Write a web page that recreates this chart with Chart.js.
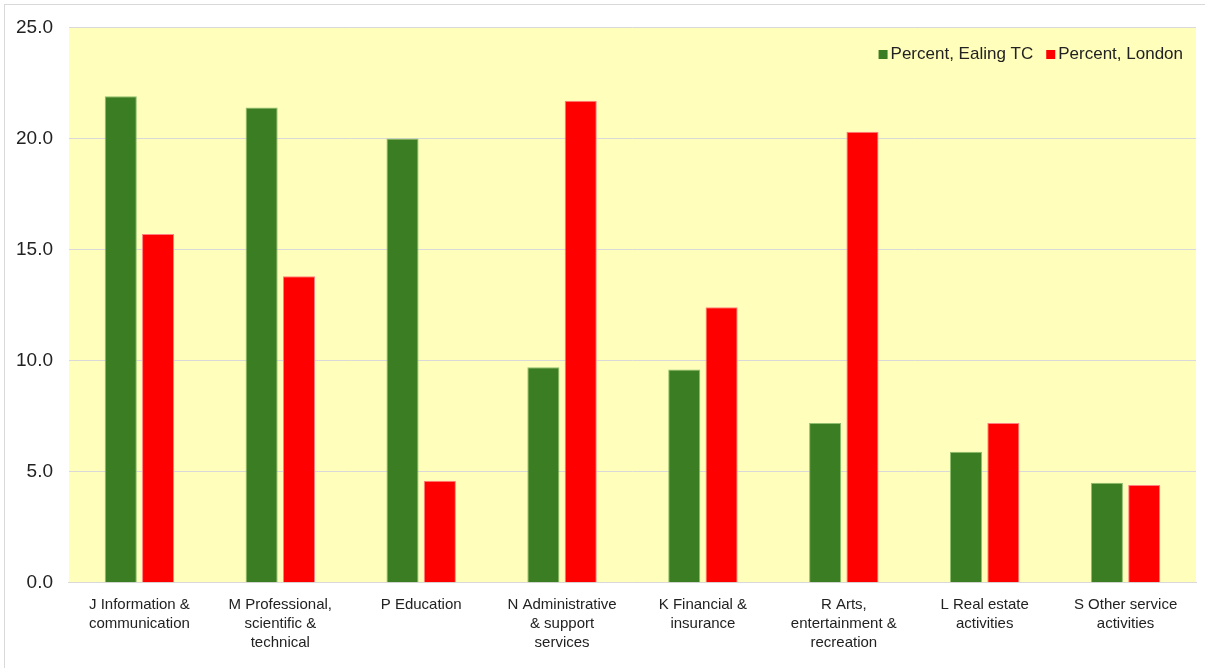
<!DOCTYPE html>
<html>
<head>
<meta charset="utf-8">
<script src="https://cdn.jsdelivr.net/npm/chart.js@4"></script>
<style>
  html, body { margin: 0; padding: 0; background: #fff; }
  #wrap { position: absolute; left: 4px; top: 4px; width: 1201px; height: 664px; box-sizing: border-box; border: 1px solid #d9d9d9; border-right: none; border-bottom: none; }
  #chart { position: absolute; left: -5px; top: -5px; }
</style>
</head>
<body>
<div id="wrap"><canvas id="chart" width="1205" height="668"></canvas></div>
<script>
const categories = [
  ["J Information &", "communication"],
  ["M Professional,", "scientific &", "technical"],
  ["P Education"],
  ["N Administrative", "& support", "services"],
  ["K Financial &", "insurance"],
  ["R Arts,", "entertainment &", "recreation"],
  ["L Real estate", "activities"],
  ["S Other service", "activities"]
];
const ealing = [21.9, 21.4, 20.0, 9.7, 9.6, 7.2, 5.9, 4.5];
const london = [15.7, 13.8, 4.6, 21.7, 12.4, 20.3, 7.2, 4.4];
const seriesNames = ["Percent, Ealing TC", "Percent, London"];

const font = "'Liberation Sans', Arial, sans-serif";

const plotBg = {
  id: "plotBg",
  beforeDraw(chart) {
    const { ctx, chartArea: a } = chart;
    ctx.save();
    ctx.fillStyle = "#ffffbb";
    ctx.fillRect(a.left, a.top, a.right - a.left, a.bottom - a.top);
    ctx.restore();
  }
};

// legend drawn inside the plot, top right
const innerLegend = {
  id: "innerLegend",
  afterDraw(chart) {
    const { ctx, chartArea: a } = chart;
    ctx.save();
    ctx.font = "17px " + font;
    ctx.textBaseline = "middle";
    const y = 54;
    let x = a.right - 13;
    const items = chart.data.datasets.slice().reverse();
    items.forEach(ds => {
      const w = ctx.measureText(ds.label).width;
      x -= w;
      ctx.fillStyle = "#222";
      ctx.fillText(ds.label, x, y);
      ctx.fillStyle = ds.backgroundColor;
      ctx.fillRect(x - 12, y - 4, 9, 9);
      x -= 25;
    });
    ctx.restore();
  }
};

new Chart(document.getElementById("chart"), {
  type: "bar",
  data: {
    labels: categories,
    datasets: [
      { label: seriesNames[0], data: ealing, backgroundColor: "#3b7d23", borderColor: "#8fbf6f", borderWidth: 1 },
      { label: seriesNames[1], data: london, backgroundColor: "#ff0000", borderColor: "#ff8080", borderWidth: 1 }
    ]
  },
  options: {
    responsive: false,
    animation: false,
    layout: { padding: { top: 20, right: 9, left: 0, bottom: 12 } },
    datasets: { bar: { categoryPercentage: 0.53, barPercentage: 0.86 } },
    plugins: {
      legend: { display: false },
      tooltip: { enabled: false }
    },
    scales: {
      x: {
        grid: { display: false },
        border: { color: "#d9d9d9" },
        ticks: { color: "#222", font: { family: font, size: 15, lineHeight: 1.27 }, maxRotation: 0, autoSkip: false, padding: 4 }
      },
      y: {
        min: 0, max: 25,
        grid: { color: "#d9d9d9", drawTicks: false },
        border: { display: false },
        ticks: {
          stepSize: 5, color: "#222", padding: 16,
          font: { family: font, size: 19 },
          callback: v => v.toFixed(1)
        }
      }
    }
  },
  plugins: [plotBg, innerLegend]
});
</script>
</body>
</html>
